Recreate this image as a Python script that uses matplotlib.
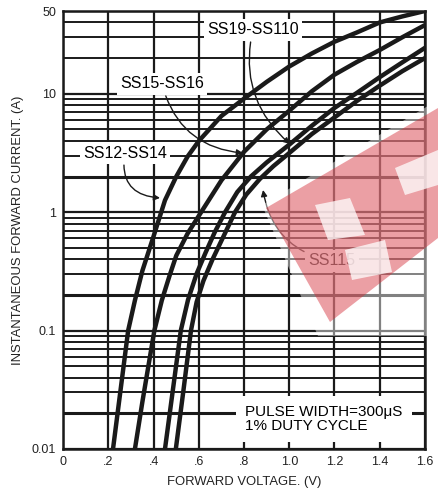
import numpy as np
import matplotlib
matplotlib.use('Agg')
import matplotlib.pyplot as plt
from matplotlib.patches import Polygon
from matplotlib.ticker import FixedLocator, NullFormatter

plt.rcParams['font.family'] = ['Liberation Sans', 'DejaVu Sans']

# forward characteristics (V, A)
v_ss12 = [0.22, 0.25, 0.287, 0.317, 0.35, 0.40, 0.45, 0.50, 0.55, 0.60, 0.70, 0.80, 0.90,
          1.00, 1.10, 1.20, 1.30, 1.40, 1.50, 1.60]
i_ss12 = [0.01, 0.028, 0.1, 0.18, 0.32, 0.63, 1.26, 2.0, 2.95, 4.0, 6.5, 9.1, 12.6,
          17, 21.9, 27.5, 33, 40, 45, 50]

v_ss15 = [0.317, 0.35, 0.403, 0.436, 0.47, 0.50, 0.55, 0.61, 0.70, 0.80, 0.90,
          1.00, 1.10, 1.20, 1.30, 1.40, 1.50, 1.60]
i_ss15 = [0.01, 0.025, 0.1, 0.18, 0.29, 0.43, 0.66, 1.0, 1.86, 3.24, 5.0,
          7.2, 10.5, 14.5, 18.6, 23.4, 30, 38]

v_ss19 = [0.45, 0.485, 0.52, 0.552, 0.59, 0.63, 0.67, 0.716, 0.77, 0.83, 0.90, 0.96,
          1.00, 1.10, 1.20, 1.30, 1.40, 1.50, 1.60]
i_ss19 = [0.01, 0.0316, 0.1, 0.182, 0.302, 0.457, 0.676, 1.0, 1.48, 2.0, 2.63, 3.24,
          3.72, 5.37, 7.59, 10.2, 13.8, 18.4, 24.4]

v_ss115 = [0.498, 0.532, 0.565, 0.59, 0.62, 0.66, 0.71, 0.76, 0.81, 0.87, 0.93,
           1.00, 1.10, 1.20, 1.30, 1.40, 1.50, 1.60]
i_ss115 = [0.01, 0.0316, 0.1, 0.174, 0.263, 0.398, 0.631, 1.0, 1.41, 1.91, 2.45,
           3.16, 4.57, 6.31, 8.71, 11.7, 15.5, 20]

x_ticks = [0, 0.2, 0.4, 0.6, 0.8, 1.0, 1.2, 1.4, 1.6]
x_labels = ['0', '.2', '.4', '.6', '.8', '1.0', '1.2', '1.4', '1.6']
y_ticks = [0.01, 0.1, 1, 10, 50]
y_labels = ['0.01', '0.1', '1', '10', '50']

ink = '#1a1a1a'

fig = plt.figure(figsize=(4.38, 4.96), dpi=100)
ax = fig.add_axes([0.1445, 0.0948, 0.8255, 0.883])
ax.set_yscale('log')
ax.set_xlim(0, 1.6)
ax.set_ylim(0.01, 50)

ax.xaxis.set_major_locator(FixedLocator(x_ticks))
ax.set_xticklabels(x_labels)
ax.yaxis.set_major_locator(FixedLocator(y_ticks))
ax.set_yticklabels(y_labels)
minor = [k * 10.0 ** e for e in (-2, -1, 0, 1) for k in range(2, 10) if k * 10.0 ** e < 50]
ax.yaxis.set_minor_locator(FixedLocator(minor))
ax.yaxis.set_minor_formatter(NullFormatter())
ax.tick_params(which='both', length=0, labelsize=9, pad=5, colors='#222222')

ax.grid(which='major', color=ink, lw=1.6)
ax.grid(which='minor', axis='y', color=ink, lw=1.4)
for ln in [10 ** e * 2 for e in (-2, -1, 0)]:
    ax.axhline(ln, color=ink, lw=2.2, zorder=1)
for s in ax.spines.values():
    s.set_linewidth(1.8)
    s.set_color(ink)
ax.set_axisbelow(True)

for v, i in [(v_ss12, i_ss12), (v_ss15, i_ss15), (v_ss19, i_ss19), (v_ss115, i_ss115)]:
    ax.plot(v, i, color=ink, lw=3.2, zorder=3, solid_joinstyle='round')

box = dict(boxstyle='square,pad=0.2', fc='white', ec='none')
arr = dict(arrowstyle='-|>', lw=1.0, color=ink, shrinkA=1, shrinkB=0, mutation_scale=9)
ax.annotate('SS12-SS14', xy=(0.428, 1.32), xytext=(0.273, 3.16), fontsize=11.5, ha='center', va='center',
            bbox=box, zorder=4, arrowprops=dict(arr, connectionstyle='arc3,rad=0.55'))
ax.annotate('SS15-SS16', xy=(0.795, 3.16), xytext=(0.437, 12.1), fontsize=11.5, ha='center', va='center',
            bbox=box, zorder=4, arrowprops=dict(arr, connectionstyle='arc3,rad=0.35'))
ax.annotate('SS19-SS110', xy=(1.003, 3.77), xytext=(0.839, 34.6), fontsize=11.5, ha='center', va='center',
            bbox=box, zorder=4, arrowprops=dict(arr, connectionstyle='arc3,rad=0.3'))
ax.annotate('SS115', xy=(0.884, 1.54), xytext=(1.189, 0.387), fontsize=11.5, ha='center', va='center',
            bbox=box, zorder=4, arrowprops=dict(arr, connectionstyle='arc3,rad=-0.35'))
ax.text(0.804, 0.0179, 'PULSE WIDTH=300\u03bcS\n1% DUTY CYCLE', fontsize=11, ha='left', va='center',
        linespacing=1.05, zorder=4, bbox=dict(boxstyle='square,pad=0.6', fc='white', ec='none'))

ax.set_xlabel('FORWARD VOLTAGE. (V)', fontsize=9.4, labelpad=6, color='#222222')
ax.set_ylabel('INSTANTANEOUS FORWARD CURRENT. (A)', fontsize=9.4, labelpad=6, color='#222222')


# watermark logo, in figure pixels
def px(pts):
    return [(x / 438.0, 1 - y / 496.0) for x, y in pts]


wm = [
    ([(262, 205), (438, 100), (438, 336), (318, 336)], 'white', 0.45),
    ([(266, 208), (438, 108), (438, 238), (330, 322)], '#d42a35', 0.45),
    ([(315, 205), (350, 198), (365, 235), (328, 240)], 'white', 0.75),
    ([(345, 250), (385, 240), (392, 272), (352, 280)], 'white', 0.75),
    ([(395, 168), (438, 150), (438, 185), (405, 195)], 'white', 0.75),
]
for pts, c, a in wm:
    fig.add_artist(Polygon(px(pts), closed=True, transform=fig.transFigure, fc=c, ec='none',
                           alpha=a, zorder=10))

fig.savefig('out.png', dpi=100)
